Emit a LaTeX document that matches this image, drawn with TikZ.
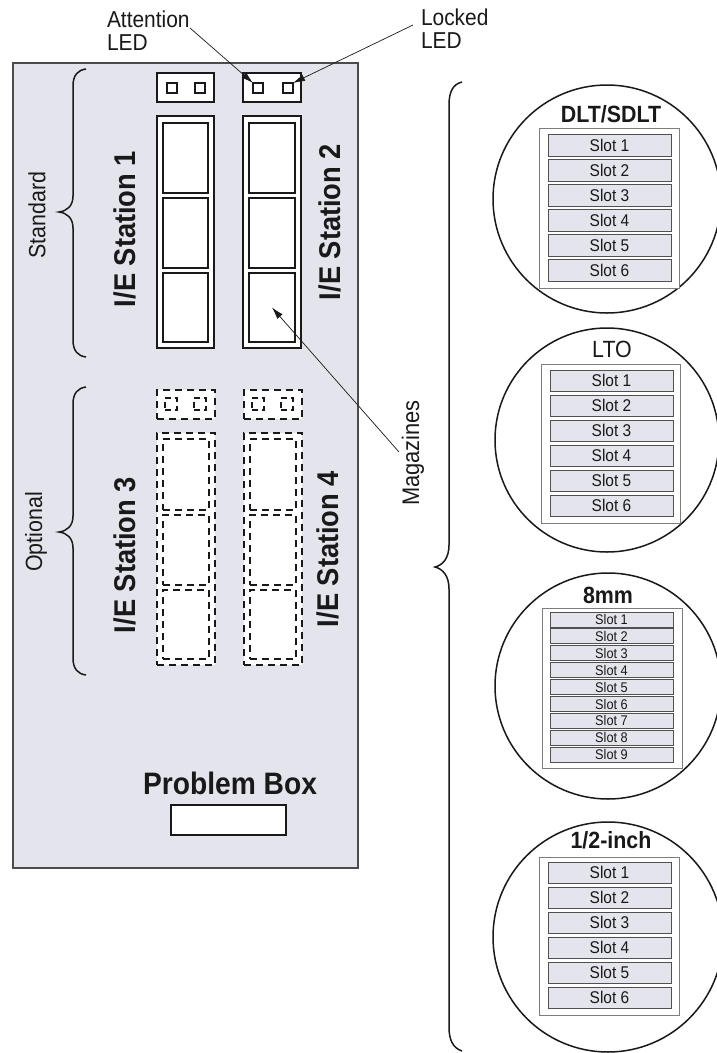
\documentclass[tikz,border=0pt]{standalone}
\usepackage{fontspec}
\setmainfont{Liberation Sans}[FakeStretch=0.91]
\usetikzlibrary{arrows.meta,calc}
\definecolor{panelfill}{RGB}{228,228,236}
\definecolor{slotfill}{RGB}{228,228,236}
\definecolor{panelline}{RGB}{75,75,75}
\definecolor{ink}{RGB}{25,25,25}
\definecolor{framegray}{RGB}{125,125,125}
\definecolor{slotline}{RGB}{80,80,80}
\newcommand{\mybox}[6]{\node[#6, minimum width={(#4-#2)*1pt}, minimum height={(#5-#3)*1pt}] (#1) at ({(#2+#4)/2},{(#3+#5)/2}) {};}
\begin{document}
\begin{tikzpicture}[x=1pt,y=-1pt,
  every node/.style={inner sep=0pt, outer sep=0pt, text=ink},
  panelbox/.style={draw=panelline, fill=panelfill, line width=1.6pt},
  solidbox/.style={draw=ink, fill=white, line width=1.5pt},
  dashbox/.style={draw=ink, fill=white, line width=1.5pt, dash pattern=on 7pt off 5pt},
  dashinner/.style={draw=ink, line width=1.5pt, dash pattern=on 7pt off 5pt},
  ledsq/.style={draw=ink, fill=white, line width=1.5pt},
  dashled/.style={draw=ink, line width=1.5pt, dash pattern=on 6pt off 4pt},
  brace/.style={draw=ink, line width=1.5pt},
  arr/.style={draw=ink, line width=0.7pt, -{Latex[length=12pt,width=7pt]}},
  lbl/.style={font=\fontsize{23}{22.5}\selectfont, align=left},
  sidelbl/.style={font=\fontsize{23.5}{24}\selectfont, rotate=90},
  stlbl/.style={font=\fontsize{30}{30}\selectfont\bfseries, rotate=90},
  mag/.style={circle, draw=ink, line width=1.5pt, fill=white},
  frame/.style={draw=framegray, fill=white, line width=1pt},
  slotbox/.style={draw=slotline, fill=slotfill, line width=1pt, font=\fontsize{17}{17}\selectfont},
  smallslot/.style={draw=slotline, fill=slotfill, line width=1pt, font=\fontsize{14}{14}\selectfont},
  ttl/.style={font=\fontsize{23.5}{24}\selectfont\bfseries, anchor=base},
  ttlreg/.style={font=\fontsize{23.5}{24}\selectfont, anchor=base}
]
\useasboundingbox (0,0) rectangle (716,1053);
\fill[white] (0,0) rectangle (716,1053);

% main panel
\mybox{panel}{13}{63}{358}{868}{panelbox}

% ---- Station 1 (standard)
\mybox{led1}{157}{73}{214}{102}{solidbox}
\mybox{led1a}{167}{83}{177}{93}{ledsq}
\mybox{led1b}{195}{83}{205}{93}{ledsq}
\mybox{mag1}{157}{116}{214}{348}{solidbox}
\mybox{mag1a}{163}{123}{208}{193}{solidbox}
\mybox{mag1b}{163}{198}{208}{268}{solidbox}
\mybox{mag1c}{163}{273}{208}{342}{solidbox}
% ---- Station 2
\mybox{led2}{243}{73}{301}{102}{solidbox}
\mybox{led2a}{253}{83}{263}{93}{ledsq}
\mybox{led2b}{283}{83}{293}{93}{ledsq}
\mybox{mag2}{243}{116}{301}{348}{solidbox}
\mybox{mag2a}{249}{123}{295}{193}{solidbox}
\mybox{mag2b}{249}{198}{295}{268}{solidbox}
\mybox{mag2c}{249}{273}{295}{342}{solidbox}
% ---- Station 3 (optional, dashed)
\mybox{led3}{157}{390}{215}{419}{dashbox}
\mybox{led3a}{165}{398}{177}{410}{dashled}
\mybox{led3b}{194}{398}{206}{410}{dashled}
\mybox{mag3}{157}{433}{215}{665}{dashbox}
\mybox{mag3a}{163}{439}{209}{510}{dashinner}
\mybox{mag3b}{163}{515}{209}{585}{dashinner}
\mybox{mag3c}{163}{590}{209}{659}{dashinner}
% ---- Station 4
\mybox{led4}{244}{390}{302}{419}{dashbox}
\mybox{led4a}{252}{398}{264}{410}{dashled}
\mybox{led4b}{281}{398}{293}{410}{dashled}
\mybox{mag4}{244}{433}{302}{665}{dashbox}
\mybox{mag4a}{250}{439}{296}{510}{dashinner}
\mybox{mag4b}{250}{515}{296}{585}{dashinner}
\mybox{mag4c}{250}{590}{296}{659}{dashinner}

% station labels
\node[stlbl] (st1) at (125,229) {I/E Station 1};
\node[stlbl] (st2) at (330,222) {I/E Station 2};
\node[stlbl] (st3) at (125,555) {I/E Station 3};
\node[stlbl] (st4) at (328,549) {I/E Station 4};

% braces and side labels
\draw[brace] (86,69) .. controls (78,70) and (73,75) .. (73,86) -- (73,196)
  .. controls (73,206) and (67,211) .. (59,212) .. controls (67,213) and (73,218) .. (73,228)
  -- (73,340) .. controls (73,351) and (78,356) .. (86,357);
\draw[brace] (86,387) .. controls (78,388) and (73,393) .. (73,404) -- (73,516)
  .. controls (73,526) and (67,531) .. (59,532) .. controls (67,533) and (73,538) .. (73,548)
  -- (73,658) .. controls (73,669) and (78,674) .. (86,675);
\node[sidelbl] (std) at (37,215) {Standard};
\node[sidelbl] (opt) at (36,532) {Optional};

% problem box
\node[font=\fontsize{31}{31}\selectfont\bfseries, anchor=base] (pbt) at (230,794) {Problem Box};
\mybox{pbox}{171}{805}{286}{835}{solidbox}

% LED callouts
\node[lbl, anchor=north west] (attn) at (107,11) {Attention\\LED};
\node[lbl, anchor=north west] (lock) at (421,9) {Locked\\LED};
\coordinate (attnS) at (190,28);
\coordinate (lockS) at (413,25);
\draw[arr] (attnS) -- (led2a.north west);
\draw[arr] (lockS) -- (led2b.north east);

% magazines brace + label
\draw[brace] (462,82) .. controls (453,84) and (449,92) .. (449,105) -- (449,545)
  .. controls (449,558) and (443,565) .. (435,567) .. controls (443,569) and (449,576) .. (449,589)
  -- (449,1027) .. controls (449,1040) and (453,1048) .. (462,1051);
\node[sidelbl, font=\fontsize{24}{24}\selectfont] (magl) at (413,453) {Magazines};
\coordinate (magS) at (399,452);
\draw[arr] (magS) -- (mag2c.center);

% ---- magnified magazines
% DLT/SDLT
\node[mag, minimum size=228pt] (c1) at (607,199) {};
\node[ttl] (t1) at (611,122) {DLT/SDLT};
\mybox{f1}{539}{128}{679}{288}{frame}
\foreach \i in {1,...,6} {
  \pgfmathsetmacro\yc{134+25*(\i-1)+11}
  \node[slotbox, minimum width=123pt, minimum height=22pt] (c1s\i) at (609.5,\yc) {Slot \i};
}
% LTO
\node[mag, minimum size=224pt] (c2) at (607,440) {};
\node[ttlreg] (t2) at (612,357) {LTO};
\mybox{f2}{541}{364}{680}{523}{frame}
\foreach \i in {1,...,6} {
  \pgfmathsetmacro\yc{370+25*(\i-1)+10.5}
  \node[slotbox, minimum width=123pt, minimum height=21pt] (c2s\i) at (611.5,\yc) {Slot \i};
}
% 8mm
\node[mag, minimum size=226pt] (c3) at (608,686) {};
\node[ttl] (t3) at (608,603) {8mm};
\mybox{f3}{542}{608}{682}{768}{frame}
\foreach \i in {1,...,9} {
  \pgfmathsetmacro\yc{612+16.9*(\i-1)+7.5}
  \node[smallslot, minimum width=123pt, minimum height=15pt] (c3s\i) at (611.5,\yc) {Slot \i};
}
% 1/2-inch
\node[mag, minimum size=230pt] (c4) at (608,937) {};
\node[ttl] (t4) at (611,848) {1/2-inch};
\mybox{f4}{539}{857}{679}{1015}{frame}
\foreach \i in {1,...,6} {
  \pgfmathsetmacro\yc{862+25*(\i-1)+10.5}
  \node[slotbox, minimum width=123pt, minimum height=21pt] (c4s\i) at (609.5,\yc) {Slot \i};
}
\end{tikzpicture}
\end{document}
